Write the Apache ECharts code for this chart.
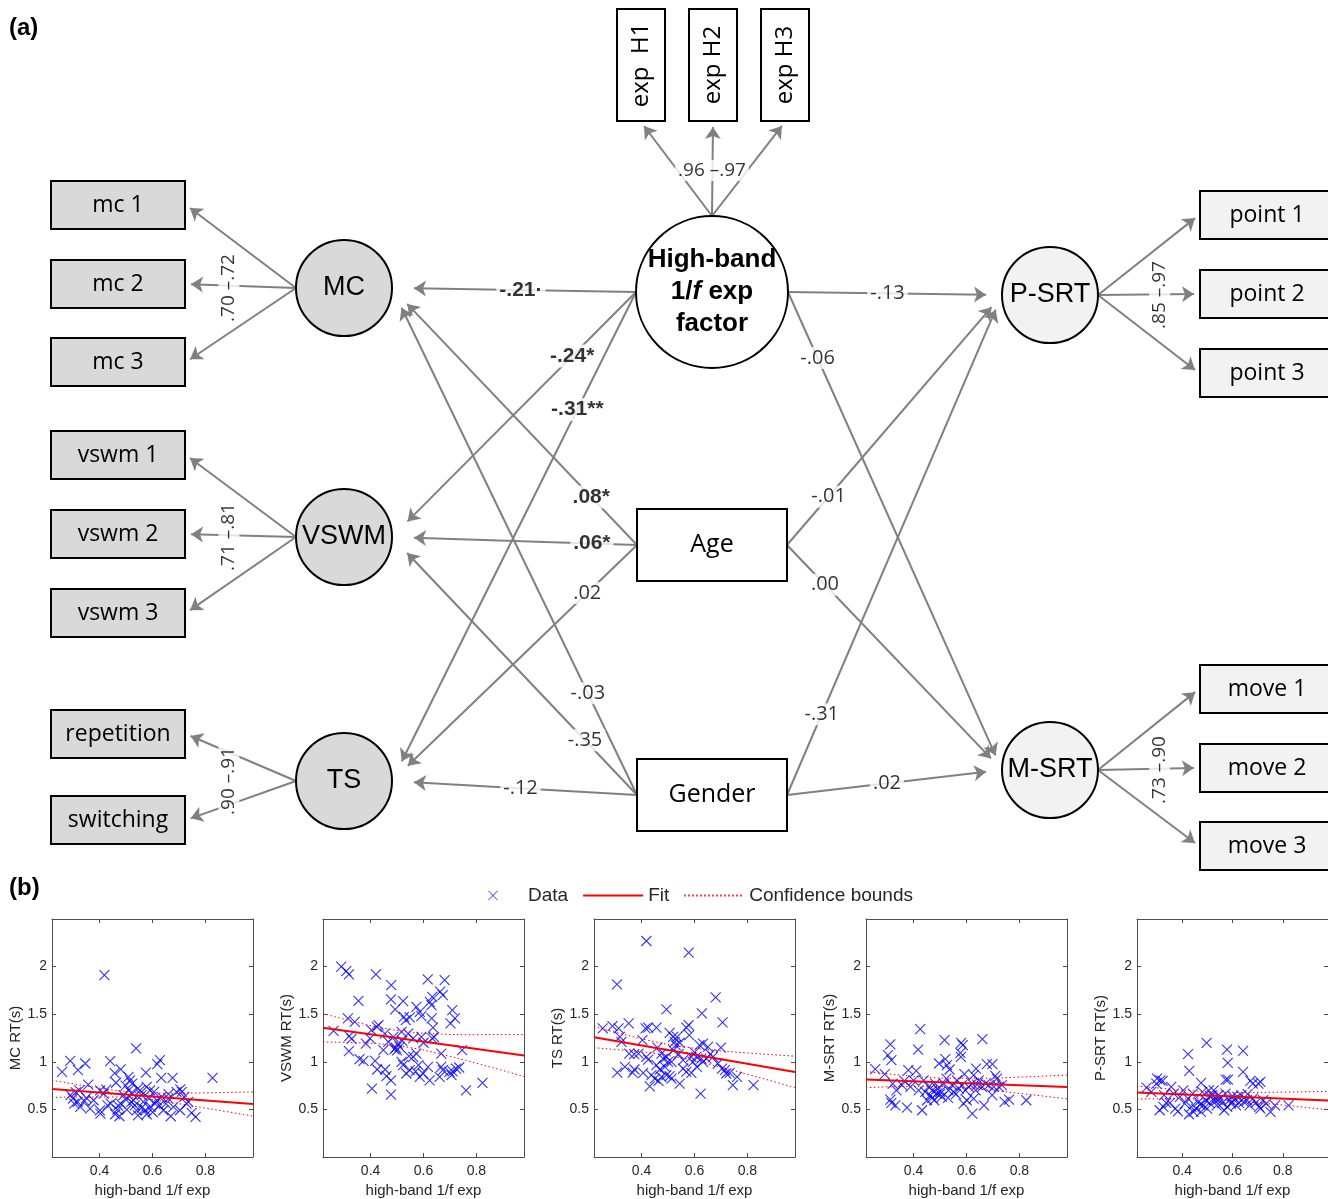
<!DOCTYPE html>
<html><head><meta charset="utf-8">
<script src="https://cdn.jsdelivr.net/npm/echarts@6/dist/echarts.min.js"></script>
<style>html,body{margin:0;padding:0;background:#fff}#c{width:1328px;height:1199px}</style>
</head><body><div id="c"></div>
<script>
// ================= DATA =================
// (a) path model
const expIndicators = ['exp  H1', 'exp H2', 'exp H3'];
const predictorNames = ['High-band 1/f exp factor', 'Age', 'Gender'];
const latentNames = ['MC', 'VSWM', 'TS'];
const indicatorNames = ['mc 1', 'mc 2', 'mc 3', 'vswm 1', 'vswm 2', 'vswm 3', 'repetition', 'switching'];
const outcomeNames = ['P-SRT', 'M-SRT'];
const outcomeIndicators = ['point 1', 'point 2', 'point 3', 'move 1', 'move 2', 'move 3'];
// loading groups: [latent, indicators, loading range]
const loadingGroups = [
  ['High-band 1/f exp factor', ['exp  H1', 'exp H2', 'exp H3'], '.96 –.97'],
  ['MC', ['mc 1', 'mc 2', 'mc 3'], '.70 –.72'],
  ['VSWM', ['vswm 1', 'vswm 2', 'vswm 3'], '.71 –.81'],
  ['TS', ['repetition', 'switching'], '.90 –.91'],
  ['P-SRT', ['point 1', 'point 2', 'point 3'], '.85 –.97'],
  ['M-SRT', ['move 1', 'move 2', 'move 3'], '.73 –.90']
];
// structural paths: [from, to, coefficient text, significant]
const paths = [
  ['High-band 1/f exp factor', 'MC', '-.21·', true],
  ['High-band 1/f exp factor', 'VSWM', '-.24*', true],
  ['High-band 1/f exp factor', 'TS', '-.31**', true],
  ['Age', 'MC', '.08*', true],
  ['Age', 'VSWM', '.06*', true],
  ['Age', 'TS', '.02', false],
  ['Gender', 'MC', '-.03', false],
  ['Gender', 'VSWM', '-.35', false],
  ['Gender', 'TS', '-.12', false],
  ['High-band 1/f exp factor', 'P-SRT', '-.13', false],
  ['High-band 1/f exp factor', 'M-SRT', '-.06', false],
  ['Age', 'P-SRT', '-.01', false],
  ['Age', 'M-SRT', '.00', false],
  ['Gender', 'P-SRT', '-.31', false],
  ['Gender', 'M-SRT', '.02', false]
];

// (b) scatter panels
const panelYNames = ['MC RT(s)', 'VSWM RT(s)', 'TS RT(s)', 'M-SRT RT(s)', 'P-SRT RT(s)'];
const xTicks = [0.4, 0.6, 0.8];
const yTicks = [0.5, 1, 1.5, 2];
const ciX = [0.22, 0.35, 0.45, 0.55, 0.65, 0.8, 0.98];

const mcRT = [[0.258,0.894],[0.289,1.01],[0.318,0.912],[0.346,0.982],[0.44,1.006],[0.418,1.911],[0.538,1.14],[0.618,0.975],[0.628,1.017],[0.633,0.83],[0.676,0.83],[0.827,0.83],[0.575,0.887],[0.48,0.92],[0.457,0.88],[0.462,0.78],[0.357,0.76],[0.323,0.70],[0.317,0.58],[0.327,0.526],[0.299,0.614],[0.304,0.56],[0.343,0.586],[0.364,0.508],[0.377,0.596],[0.401,0.49],[0.403,0.456],[0.425,0.708],[0.43,0.543],[0.442,0.561],[0.459,0.449],[0.467,0.498],[0.475,0.428],[0.48,0.561],[0.49,0.649],[0.498,0.75],[0.509,0.842],[0.515,0.806],[0.523,0.771],[0.521,0.673],[0.528,0.596],[0.533,0.543],[0.54,0.49],[0.545,0.438],[0.553,0.701],[0.559,0.649],[0.565,0.579],[0.573,0.491],[0.578,0.449],[0.587,0.614],[0.593,0.526],[0.601,0.47],[0.606,0.684],[0.616,0.596],[0.626,0.543],[0.635,0.631],[0.641,0.491],[0.651,0.561],[0.66,0.614],[0.669,0.428],[0.679,0.526],[0.691,0.684],[0.704,0.491],[0.711,0.684],[0.72,0.631],[0.729,0.561],[0.748,0.463],[0.763,0.421],[0.402,0.701],[0.415,0.666],[0.578,0.736],[0.591,0.701],[0.503,0.498],[0.29,0.65],[0.31,0.68],[0.35,0.62],[0.47,0.54],[0.5,0.6],[0.545,0.72],[0.56,0.52],[0.61,0.56],[0.66,0.66],[0.705,0.71],[0.735,0.58],[0.51,0.7],[0.52,0.58]];
const vswmRT = [[0.289,1.999],[0.308,1.953],[0.318,1.918],[0.42,1.918],[0.478,1.806],[0.477,1.655],[0.354,1.641],[0.314,1.455],[0.34,1.42],[0.26,1.325],[0.319,1.269],[0.328,1.241],[0.318,1.112],[0.358,1.027],[0.373,1.01],[0.382,1.192],[0.403,1.332],[0.423,1.367],[0.43,1.385],[0.417,1.01],[0.425,0.919],[0.405,0.719],[0.455,0.919],[0.46,0.849],[0.477,0.806],[0.477,0.656],[0.493,1.55],[0.523,1.637],[0.526,1.473],[0.533,1.438],[0.548,1.466],[0.573,1.578],[0.586,1.525],[0.592,1.48],[0.616,1.865],[0.624,1.63],[0.63,1.595],[0.633,1.683],[0.631,1.455],[0.636,1.36],[0.68,1.858],[0.663,1.736],[0.673,1.701],[0.709,1.543],[0.719,1.455],[0.702,1.403],[0.746,1.122],[0.761,0.701],[0.823,0.778],[0.503,1.192],[0.51,1.157],[0.495,1.15],[0.517,0.999],[0.523,0.964],[0.535,0.877],[0.548,0.912],[0.561,1.052],[0.573,1.087],[0.581,0.964],[0.586,0.842],[0.598,0.877],[0.617,0.947],[0.623,0.806],[0.661,0.842],[0.667,0.947],[0.673,0.912],[0.698,0.894],[0.706,0.859],[0.723,0.929],[0.667,1.087],[0.448,1.122],[0.467,1.21],[0.486,1.262],[0.454,1.297],[0.517,1.315],[0.542,1.297],[0.561,1.245],[0.592,1.262],[0.633,1.245],[0.398,1.245],[0.52,1.22],[0.545,1.06],[0.6,1.2],[0.64,1.26],[0.71,0.9],[0.735,0.94],[0.49,1.13],[0.5,1.12],[0.57,0.9]];
const tsRT = [[0.418,2.269],[0.578,2.146],[0.307,1.813],[0.68,1.676],[0.494,1.55],[0.628,1.508],[0.706,1.413],[0.253,1.35],[0.29,1.374],[0.313,1.35],[0.351,1.403],[0.415,1.35],[0.425,1.36],[0.456,1.36],[0.506,1.304],[0.569,1.36],[0.578,1.385],[0.58,1.28],[0.318,1.262],[0.324,1.21],[0.403,1.227],[0.519,1.262],[0.525,1.21],[0.529,1.175],[0.534,1.262],[0.544,1.2],[0.619,1.175],[0.632,1.192],[0.651,1.157],[0.70,1.15],[0.353,1.087],[0.372,1.08],[0.388,1.087],[0.418,1.052],[0.425,1.024],[0.456,0.964],[0.475,1.087],[0.481,1.034],[0.494,1.052],[0.513,0.999],[0.557,1.017],[0.588,1.052],[0.594,0.999],[0.607,1.052],[0.626,1.034],[0.632,0.999],[0.645,1.034],[0.67,1.052],[0.688,0.982],[0.704,0.929],[0.715,0.912],[0.72,0.877],[0.733,0.884],[0.745,0.754],[0.761,0.842],[0.823,0.754],[0.308,0.887],[0.337,0.947],[0.366,0.887],[0.373,0.919],[0.406,0.884],[0.431,0.743],[0.437,0.859],[0.45,0.824],[0.464,0.799],[0.475,0.842],[0.494,0.859],[0.506,0.849],[0.513,0.824],[0.544,0.771],[0.557,0.929],[0.569,0.894],[0.588,0.884],[0.623,0.666],[0.609,0.947],[0.488,0.947],[0.469,0.919],[0.52,1.12],[0.54,1.08],[0.6,1.1],[0.66,1.08],[0.46,1.15],[0.5,1.0]];
const msrtRT = [[0.425,1.343],[0.312,1.182],[0.303,1.069],[0.316,1.017],[0.255,0.922],[0.291,0.87],[0.38,0.912],[0.41,0.905],[0.417,1.129],[0.517,1.227],[0.496,0.982],[0.52,1.027],[0.526,0.964],[0.536,0.919],[0.58,1.199],[0.586,1.175],[0.577,1.094],[0.579,1.052],[0.66,1.238],[0.636,0.929],[0.627,0.859],[0.677,0.975],[0.698,0.975],[0.709,0.852],[0.592,0.87],[0.312,0.603],[0.316,0.568],[0.331,0.543],[0.375,0.519],[0.432,0.491],[0.451,0.596],[0.478,0.596],[0.488,0.666],[0.507,0.631],[0.589,0.561],[0.601,0.596],[0.627,0.614],[0.622,0.456],[0.666,0.543],[0.697,0.649],[0.744,0.579],[0.761,0.603],[0.826,0.596],[0.321,0.771],[0.335,0.701],[0.356,0.754],[0.365,0.799],[0.388,0.736],[0.40,0.806],[0.419,0.701],[0.438,0.806],[0.444,0.684],[0.457,0.736],[0.463,0.649],[0.471,0.701],[0.482,0.771],[0.491,0.719],[0.501,0.684],[0.514,0.771],[0.524,0.824],[0.532,0.701],[0.545,0.754],[0.551,0.684],[0.564,0.806],[0.571,0.719],[0.583,0.754],[0.596,0.701],[0.608,0.736],[0.621,0.771],[0.635,0.701],[0.646,0.806],[0.659,0.736],[0.672,0.771],[0.684,0.754],[0.703,0.736],[0.715,0.824],[0.722,0.736],[0.734,0.754],[0.47,0.62],[0.5,0.66],[0.53,0.62],[0.56,0.66],[0.64,0.76]];
const psrtRT = [[0.497,1.199],[0.423,1.08],[0.578,1.129],[0.581,0.989],[0.642,1.115],[0.642,0.894],[0.428,0.905],[0.475,0.778],[0.258,0.729],[0.30,0.824],[0.313,0.806],[0.322,0.799],[0.297,0.771],[0.356,0.736],[0.404,0.701],[0.573,0.813],[0.582,0.813],[0.671,0.799],[0.681,0.771],[0.703,0.771],[0.711,0.789],[0.31,0.491],[0.325,0.526],[0.336,0.568],[0.351,0.568],[0.372,0.508],[0.383,0.48],[0.41,0.561],[0.427,0.449],[0.436,0.526],[0.445,0.473],[0.455,0.508],[0.465,0.579],[0.474,0.473],[0.483,0.543],[0.493,0.596],[0.499,0.508],[0.508,0.568],[0.518,0.649],[0.525,0.701],[0.529,0.596],[0.537,0.543],[0.544,0.649],[0.551,0.614],[0.559,0.568],[0.567,0.491],[0.572,0.666],[0.579,0.526],[0.588,0.596],[0.595,0.561],[0.605,0.603],[0.614,0.543],[0.62,0.631],[0.626,0.568],[0.635,0.649],[0.645,0.579],[0.658,0.596],[0.668,0.543],[0.681,0.614],[0.693,0.568],[0.706,0.526],[0.711,0.508],[0.722,0.596],[0.734,0.561],[0.751,0.473],[0.769,0.543],[0.823,0.543],[0.277,0.684],[0.328,0.649],[0.366,0.666],[0.391,0.631],[0.423,0.614],[0.442,0.666],[0.48,0.684],[0.506,0.701],[0.512,0.631],[0.54,0.6],[0.6,0.64],[0.66,0.66],[0.47,0.55]];

// fit lines (value at x = 0.22 and x = 0.98)
const fitX = [0.22, 0.98];
const mcFit = [0.715, 0.557];
const vswmFit = [1.357, 1.066];
const tsFit = [1.259, 0.894];
const msrtFit = [0.813, 0.736];
const psrtFit = [0.677, 0.593];
// confidence bounds read at ciX
const mcUpper = [0.805, 0.746, 0.704, 0.677, 0.670, 0.674, 0.684];
const mcLower = [0.625, 0.630, 0.630, 0.616, 0.581, 0.514, 0.430];
const vswmUpper = [1.507, 1.413, 1.353, 1.313, 1.293, 1.285, 1.286];
const vswmLower = [1.207, 1.201, 1.185, 1.149, 1.091, 0.985, 0.846];
const tsUpper = [1.371, 1.276, 1.211, 1.162, 1.128, 1.093, 1.059];
const tsLower = [1.147, 1.118, 1.087, 1.040, 0.978, 0.869, 0.729];
const msrtUpper = [0.898, 0.860, 0.838, 0.827, 0.827, 0.839, 0.861];
const msrtLower = [0.728, 0.740, 0.742, 0.733, 0.713, 0.669, 0.611];
const psrtUpper = [0.745, 0.714, 0.694, 0.682, 0.678, 0.681, 0.690];
const psrtLower = [0.609, 0.612, 0.610, 0.600, 0.580, 0.545, 0.496];

// ================= LAYOUT (positions / sizes, diagram units = px) =================
const L = {};
expIndicators.forEach((n, i) => L[n] = { x: [641, 713, 785][i], y: 65, w: 48, h: 112 });
L['High-band 1/f exp factor'] = { x: 712, y: 292, d: 152 };
L['Age'] = { x: 712, y: 545, w: 150, h: 72 };
L['Gender'] = { x: 712, y: 795, w: 150, h: 72 };
latentNames.forEach((n, i) => L[n] = { x: 344, y: [288, 537, 781][i], d: 96 });
outcomeNames.forEach((n, i) => L[n] = { x: 1050, y: [295, 770][i], d: 96 });
indicatorNames.forEach((n, i) => L[n] = { x: 118, y: [205, 284, 362, 455, 534, 613, 734, 820][i], w: 134, h: 48 });
outcomeIndicators.forEach((n, i) => L[n] = { x: 1267, y: [215, 294, 373, 689, 768, 846][i], w: 134, h: 48 });
const pathLabelT = [0.507, 0.275, 0.248, 0.196, 0.198, 0.214, 0.207, 0.223, 0.511, 0.49, 0.141, 0.2, 0.183, 0.165, 0.49];
const panelLeft = [52, 323, 594, 866, 1137];
const ARROW = 12, TIP = 5;

// ================= BUILD =================
const hw = n => (L[n].d ? L[n].d / 2 : L[n].w / 2);
const hh = n => (L[n].d ? L[n].d / 2 : L[n].h / 2);
function unit(a, b) { const dx = b[0] - a[0], dy = b[1] - a[1], l = Math.hypot(dx, dy); return [dx / l, dy / l]; }
function towards(tip, from, dist) { const u = unit(tip, from); return [tip[0] + u[0] * dist, tip[1] + u[1] * dist]; }

const FILL = n => (indicatorNames.includes(n) || latentNames.includes(n)) ? '#d9d9d9'
  : (outcomeNames.includes(n) || outcomeIndicators.includes(n)) ? '#f2f2f2' : '#ffffff';

const nodeList = Object.keys(L);
function labelStyle(n) {
  if (n === 'High-band 1/f exp factor') {
    return { text: '{b|High-band}\n{b|1/}{bi|f}{b| exp}\n{b|factor}',
      rich: { b: { fontSize: 26, fontWeight: 'bold', fontFamily: 'Liberation Sans', lineHeight: 32, fill: '#000' },
              bi: { fontSize: 26, fontWeight: 'bold', fontStyle: 'italic', fontFamily: 'Liberation Sans', lineHeight: 32, fill: '#000' } } };
  }
  if (expIndicators.includes(n)) return { text: n, fontSize: 24, fontFamily: 'Open Sans' };
  if (latentNames.includes(n) || outcomeNames.includes(n)) return { text: n, fontSize: 27, fontFamily: 'Liberation Sans' };
  if (n === 'Age' || n === 'Gender') return { text: n, fontSize: 25, fontFamily: 'Open Sans' };
  return { text: n, fontSize: 23, fontFamily: 'Open Sans' };
}
function renderNode(params, api) {
  const n = nodeList[params.dataIndex];
  const o = L[n];
  const c = api.coord([api.value(0), api.value(1)]);
  const style = { fill: FILL(n), stroke: '#000', lineWidth: 2 };
  const shape = o.d
    ? { type: 'circle', shape: { cx: c[0], cy: c[1], r: o.d / 2 }, style }
    : { type: 'rect', shape: { x: c[0] - o.w / 2, y: c[1] - o.h / 2, width: o.w, height: o.h }, style };
  const text = { type: 'text', x: c[0], y: c[1], rotation: expIndicators.includes(n) ? Math.PI / 2 : 0,
    style: Object.assign({ align: 'center', verticalAlign: 'middle', fill: '#000' }, labelStyle(n)) };
  return { type: 'group', children: [shape, text] };
}

const edgeData = [], labelData = [];
const normalLabel = { fontSize: 20, fontFamily: 'Open Sans', fontWeight: 'normal' };
const boldLabel = { fontSize: 21, fontFamily: 'Liberation Sans', fontWeight: 'bold' };

loadingGroups.forEach(([src, targets, txt]) => {
  const S = L[src];
  let dir = src === 'High-band 1/f exp factor' ? 'up' : (S.x < 700 ? 'left' : 'right');
  let start, edgeX = 0;
  targets.forEach(t => {
    const T = L[t];
    let s, tip;
    if (dir === 'up') { s = [S.x, S.y - hh(src)]; tip = [T.x, T.y + hh(t) + 1]; }
    else if (dir === 'left') { s = [S.x - hw(src), S.y]; tip = [T.x + hw(t) + 1, T.y]; }
    else { s = [S.x + hw(src), S.y]; tip = [T.x - hw(t) - 1, T.y]; }
    start = s; edgeX = tip[0];
    edgeData.push({ coords: [s, towards(tip, s, TIP)] });
  });
  let pos;
  if (dir === 'up') { const mid = L[targets[1]]; pos = [S.x, start[1] + 0.48 * ((mid.y + hh(targets[1])) - start[1])]; }
  else pos = [start[0] + 0.61 * (edgeX - start[0]), S.y];
  labelData.push({ name: txt, value: pos, label: Object.assign({ rotate: dir === 'up' ? 0 : 90 }, normalLabel, { fontSize: 19 }) });
});

paths.forEach(([from, to, txt, sig], i) => {
  const F = L[from], T = L[to];
  const leftward = T.x < F.x;
  const s = [leftward ? F.x - hw(from) : F.x + hw(from), F.y];
  const anchor = [leftward ? T.x + hw(to) : T.x - hw(to), T.y];
  const gap = leftward ? 17 : 11;
  const tip = towards(anchor, s, gap);
  edgeData.push({ coords: [s, towards(tip, s, TIP)] });
  const t = pathLabelT[i];
  const pos = [s[0] + t * (tip[0] - s[0]), s[1] + t * (tip[1] - s[1])];
  labelData.push({ name: txt, value: pos, label: Object.assign({}, sig ? boldLabel : normalLabel) });
});

// ---- option ----
const AX = '#4d4d4d', TXT = '#262626';
const grids = [{ left: 0, top: 0, width: 1328, height: 880, show: false }];
const xAxes = [{ type: 'value', gridIndex: 0, min: 0, max: 1328, show: false }];
const yAxes = [{ type: 'value', gridIndex: 0, min: 0, max: 880, inverse: true, show: false }];
const series = [
  { type: 'lines', name: 'paths', coordinateSystem: 'cartesian2d', xAxisIndex: 0, yAxisIndex: 0,
    symbol: ['none', 'arrow'], symbolSize: ARROW, silent: true, z: 2,
    lineStyle: { color: '#808080', width: 2, opacity: 1 }, data: edgeData },
  { type: 'custom', name: 'nodes', coordinateSystem: 'cartesian2d', xAxisIndex: 0, yAxisIndex: 0, silent: true, z: 3,
    clip: false, renderItem: renderNode, data: nodeList.map(n => ({ name: n, value: [L[n].x, L[n].y] })) },
  { type: 'scatter', name: 'coef', xAxisIndex: 0, yAxisIndex: 0, silent: true, z: 4,
    symbolSize: 1, itemStyle: { color: 'rgba(0,0,0,0)' },
    label: { show: true, position: 'inside', formatter: p => p.name, color: '#000', backgroundColor: '#fff', padding: [1, 3] },
    data: labelData }
];

const panels = [
  [mcRT, mcFit, mcUpper, mcLower], [vswmRT, vswmFit, vswmUpper, vswmLower], [tsRT, tsFit, tsUpper, tsLower],
  [msrtRT, msrtFit, msrtUpper, msrtLower], [psrtRT, psrtFit, psrtUpper, psrtLower]
];
const XPATH = 'path://M0,0L10,10M10,0L0,10';
const NOFILL = 'rgba(0,0,0,0)';
panels.forEach(([pts, fit, up, lo], i) => {
  const g = i + 1;
  grids.push({ left: panelLeft[i], top: 919, width: 201, height: 238, show: false });
  const axBase = { type: 'value', gridIndex: g, splitLine: { show: false },
    axisLine: { show: true, onZero: false, lineStyle: { color: AX, width: 1 } } };
  xAxes.push(Object.assign({}, axBase, { position: 'bottom', min: 0.22, max: 0.98,
    axisTick: { show: true, inside: true, length: 4, customValues: xTicks, lineStyle: { color: AX } },
    axisLabel: { show: true, customValues: xTicks, formatter: v => v.toFixed(1), color: TXT, fontSize: 14, fontFamily: 'Liberation Sans', margin: 7 },
    name: 'high-band 1/f exp', nameLocation: 'middle', nameGap: 26,
    nameTextStyle: { color: TXT, fontSize: 15, fontFamily: 'Liberation Sans' } }));
  xAxes.push(Object.assign({}, axBase, { position: 'top', min: 0.22, max: 0.98,
    axisTick: { show: true, inside: true, length: 4, customValues: xTicks, lineStyle: { color: AX } },
    axisLabel: { show: false } }));
  yAxes.push(Object.assign({}, axBase, { position: 'left', min: 0, max: 2.5, interval: 0.5,
    axisTick: { show: true, inside: true, length: 4, customValues: yTicks, lineStyle: { color: AX } },
    axisLabel: { show: true, customValues: yTicks, formatter: v => String(v), color: TXT, fontSize: 14, fontFamily: 'Liberation Sans', margin: 5 },
    name: panelYNames[i], nameLocation: 'middle', nameGap: 29, nameRotate: 90,
    nameTextStyle: { color: TXT, fontSize: 15, fontFamily: 'Liberation Sans' } }));
  yAxes.push(Object.assign({}, axBase, { position: 'right', min: 0, max: 2.5, interval: 0.5,
    axisTick: { show: true, inside: true, length: 4, customValues: yTicks, lineStyle: { color: AX } },
    axisLabel: { show: false } }));
  const xi = 1 + 2 * i, yi = 1 + 2 * i;
  series.push({ type: 'scatter', name: 'Data', xAxisIndex: xi, yAxisIndex: yi, symbol: XPATH, symbolSize: 10,
    symbolKeepAspect: true, silent: true, z: 2,
    itemStyle: { color: NOFILL, borderColor: '#0000ff', borderWidth: 1.1 }, data: pts });
  series.push({ type: 'line', name: 'Fit', xAxisIndex: xi, yAxisIndex: yi, showSymbol: false, symbol: 'none', silent: true, z: 4,
    lineStyle: { color: '#ff0000', width: 2 }, itemStyle: { color: NOFILL, borderWidth: 0 },
    data: fitX.map((x, k) => [x, fit[k]]) });
  [up, lo].forEach(b => series.push({ type: 'line', name: 'Confidence bounds', xAxisIndex: xi, yAxisIndex: yi,
    showSymbol: false, symbol: 'none', smooth: true, silent: true, z: 3,
    lineStyle: { color: '#ff0000', width: 1, type: [1.5, 2.5] }, itemStyle: { color: NOFILL, borderWidth: 0 },
    data: ciX.map((x, k) => [x, b[k]]) }));
});

const option = {
  animation: false,
  backgroundColor: '#ffffff',
  title: [
    { text: '(a)', left: 9, top: 16, padding: 0, textStyle: { fontSize: 24, fontWeight: 'bold', fontFamily: 'Liberation Sans', color: '#000' } },
    { text: '(b)', left: 9, top: 876, padding: 0, textStyle: { fontSize: 24, fontWeight: 'bold', fontFamily: 'Liberation Sans', color: '#000' } }
  ],
  legend: {
    data: [
      { name: 'Data', icon: XPATH, itemStyle: { color: NOFILL, borderColor: '#0000ff', borderWidth: 1 } },
      { name: 'Fit', itemStyle: { color: NOFILL, borderColor: NOFILL, borderWidth: 0 } },
      { name: 'Confidence bounds', itemStyle: { color: NOFILL, borderColor: NOFILL, borderWidth: 0 } }
    ],
    left: 488, top: 886, itemWidth: 60, itemHeight: 9, itemGap: 14, padding: 0,
    selectedMode: false,
    textStyle: { fontSize: 19, fontFamily: 'Liberation Sans', color: TXT }
  },
  grid: grids, xAxis: xAxes, yAxis: yAxes, series: series
};
const chart = echarts.init(document.getElementById('c'));
chart.setOption(option);
</script></body></html>
